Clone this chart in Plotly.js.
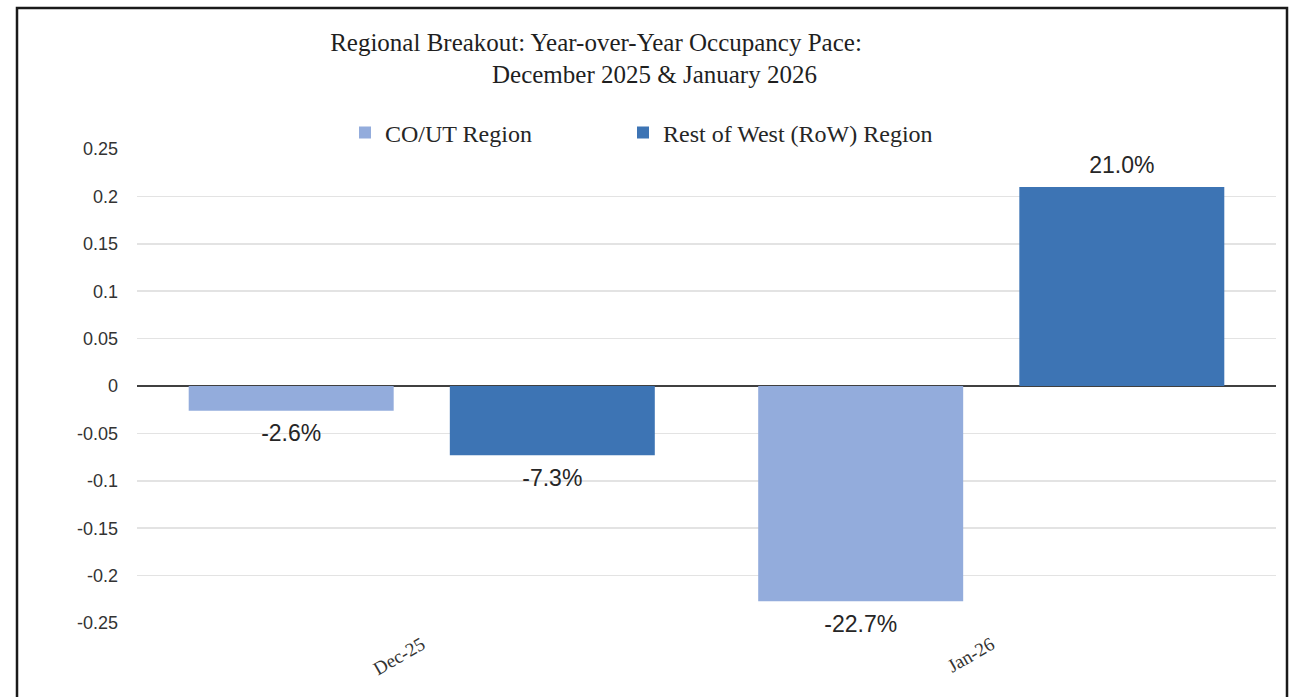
<!DOCTYPE html>
<html>
<head>
<meta charset="utf-8">
<script src="https://cdn.plot.ly/plotly-3.0.1.min.js"></script>
<style>
html,body{margin:0;padding:0;background:#fff;}
#chart{width:1299px;height:697px;}
</style>
</head>
<body>
<div id="chart"></div>
<script>
const categories = ['Dec-25', 'Jan-26'];
const seriesNames = ['CO/UT Region', 'Rest of West (RoW) Region'];
const coutValues = [-0.026, -0.227];
const rowValues = [-0.073, 0.210];
const yTickVals = [-0.25, -0.2, -0.15, -0.1, -0.05, 0, 0.05, 0.1, 0.15, 0.2, 0.25];
const yTickText = ['-0.25', '-0.2', '-0.15', '-0.1', '-0.05', '0', '0.05', '0.1', '0.15', '0.2', '0.25'];
const titleLine1 = 'Regional Breakout: Year-over-Year Occupancy Pace:';
const titleLine2 = 'December 2025 &amp; January 2026';

const serif = 'Liberation Serif, Times New Roman, serif';
const sans = 'Liberation Sans, Arial, sans-serif';
const labelFont = {family: sans, size: 23, color: '#262626'};
const GAP = 0.083;

function labelTrace(vals) {
  return {
    type: 'scatter', mode: 'markers+text', x: categories, y: vals,
    texttemplate: '%{y:.1%}',
    textposition: vals.map(v => v < 0 ? 'bottom center' : 'top center'),
    textfont: labelFont,
    marker: {size: vals.map(v => v < 0 ? 20 : 12), opacity: 0, color: '#ffffff'},
    showlegend: false, cliponaxis: false, hoverinfo: 'skip'
  };
}

const traces = [
  {
    type: 'bar', name: seriesNames[0], x: categories, y: coutValues,
    marker: {color: '#93ACDC'}, legend: 'legend', hoverinfo: 'x+y'
  },
  {
    type: 'bar', name: seriesNames[1], x: categories, y: rowValues,
    marker: {color: '#3D74B4'}, legend: 'legend2', hoverinfo: 'x+y'
  },
  labelTrace(coutValues),
  labelTrace(rowValues)
];

const legendFont = {family: serif, size: 24, color: '#262626'};
const titleFont = {family: serif, size: 25, color: '#1f1f1f'};

const layout = {
  width: 1299, height: 697,
  paper_bgcolor: '#ffffff', plot_bgcolor: '#ffffff',
  margin: {l: 137, r: 23, t: 149, b: 74},
  barmode: 'group', bargap: GAP, bargroupgap: 0.215,
  scattermode: 'group', scattergap: GAP,
  title: {
    text: titleLine1, font: titleFont,
    x: 596 / 1299, xanchor: 'center', xref: 'container',
    y: 1 - 42 / 697, yanchor: 'middle', yref: 'container'
  },
  annotations: [{
    text: titleLine2, showarrow: false, font: titleFont,
    xref: 'paper', yref: 'paper',
    x: (654 - 137) / 1139, y: (623 - 74) / 474, xanchor: 'center', yanchor: 'middle'
  }],
  showlegend: true,
  legend: {
    orientation: 'h', x: (345 - 137) / 1139, xanchor: 'left', y: (623 - 133) / 474, yanchor: 'middle',
    font: legendFont, bgcolor: 'rgba(0,0,0,0)'
  },
  legend2: {
    orientation: 'h', x: (623 - 137) / 1139, xanchor: 'left', y: (623 - 133) / 474, yanchor: 'middle',
    font: legendFont, bgcolor: 'rgba(0,0,0,0)'
  },
  xaxis: {
    type: 'category', showgrid: false, zeroline: false, showline: false,
    ticks: '', tickangle: -30, ticklabelstandoff: 6,
    tickfont: {family: serif, size: 19, color: '#333333'}
  },
  yaxis: {
    range: [-0.25, 0.25], autorange: false,
    tickmode: 'array', tickvals: yTickVals, ticktext: yTickText,
    showgrid: true, gridcolor: '#e3e3e3', gridwidth: 1.5,
    zeroline: true, zerolinecolor: '#404040', zerolinewidth: 2,
    showline: false, ticks: '', ticklabelstandoff: 18,
    tickfont: {family: sans, size: 18, color: '#333333'}
  },
  shapes: [{
    type: 'rect', xref: 'paper', yref: 'paper', layer: 'above',
    x0: (17 - 137) / 1139, x1: (1287 - 137) / 1139,
    y0: (623 - 705) / 474, y1: (623 - 8) / 474,
    line: {color: '#1a1a1a', width: 2.5}, fillcolor: 'rgba(0,0,0,0)'
  }]
};

Plotly.newPlot('chart', traces, layout, {displayModeBar: false, staticPlot: true});
</script>
</body>
</html>
